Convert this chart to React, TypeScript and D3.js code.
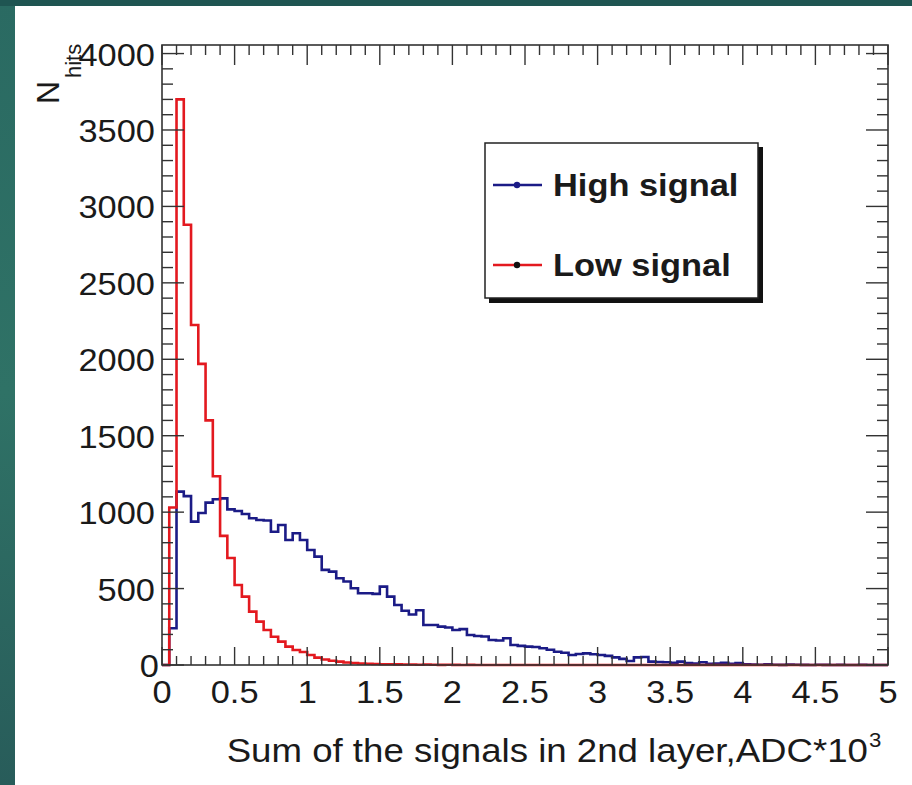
import React from "react";
import * as d3 from "d3";

// ---- data ----
const binWidth = 0.05;
const xDomain = [0, 5];
const yDomain = [0, 4056];

const highSignal = [
  0, 240, 1134, 1105, 938, 994, 1062, 1084, 1090, 1018,
  1007, 988, 960, 949, 945, 872, 916, 818, 862, 818,
  752, 709, 622, 611, 568, 546, 502, 469, 469, 465,
  513, 447, 393, 355, 330, 358, 262, 262, 251, 245,
  229, 235, 196, 190, 186, 164, 160, 175, 131, 125,
  120, 118, 110, 100, 87, 80, 65, 72, 76, 70,
  65, 60, 50, 40, 26, 50, 52, 22, 20, 18,
  15, 22, 12, 10, 18, 8, 10, 14, 8, 12,
  4, 3, 2, 4, 2, 1, 3, 2, 1, 0,
  2, 1, 0, 1, 0, 0, 1, 0, 0, 0,
];

const lowSignal = [
  0, 1030, 3700, 2880, 2224, 1970, 1600, 1235, 845, 700,
  523, 447, 349, 284, 229, 185, 153, 120, 98, 85,
  65, 48, 36, 28, 22, 16, 13, 10, 8, 7,
  5, 5, 4, 3, 3, 2, 3, 2, 1, 2,
  1, 0, 1, 0, 0, 0, 0, 0, 0, 0,
  0, 0, 0, 0, 0, 0, 0, 0, 0, 0,
  0, 0, 0, 0, 0, 0, 0, 0, 0, 0,
  0, 0, 0, 0, 0, 0, 0, 0, 0, 0,
  0, 0, 0, 0, 0, 0, 0, 0, 0, 0,
  0, 0, 0, 0, 0, 0, 0, 0, 0, 0,
];

const xMajorTicks = [0, 0.5, 1, 1.5, 2, 2.5, 3, 3.5, 4, 4.5, 5];
const xTickLabels = ["0", "0.5", "1", "1.5", "2", "2.5", "3", "3.5", "4", "4.5", "5"];
const yMajorTicks = [0, 500, 1000, 1500, 2000, 2500, 3000, 3500, 4000];
const yTickLabels = ["0", "500", "1000", "1500", "2000", "2500", "3000", "3500", "4000"];
const legendLabels = ["High signal", "Low signal"];

// ---- layout ----
const W = 912;
const H = 785;
const F = { left: 162, right: 888, top: 45, bottom: 665 };
const FONT = "'Liberation Sans', Arial, Helvetica, sans-serif";
const SX = 1.11;
const BLUE = "#1b1b86";
const RED = "#e3191f";

function T(props: {
  x: number; y: number; size: number; anchor?: string; weight?: string | number;
  children: React.ReactNode; fill?: string;
}) {
  const { x, y, size, anchor = "start", weight = "normal", children, fill = "#1a1a1a" } = props;
  return (
    <text transform={`translate(${x},${y}) scale(${SX},1)`} fontFamily={FONT} fontSize={size}
      fontWeight={weight} textAnchor={anchor} fill={fill}>
      {children}
    </text>
  );
}

export default function App() {
  const x = d3.scaleLinear().domain(xDomain).range([F.left, F.right]);
  const y = d3.scaleLinear().domain(yDomain).range([F.bottom, F.top]);

  const xMinor = d3.range(0, 5.0001, 0.1);
  const yMinor = d3.range(0, yDomain[1], 100);

  const stepPath = (vals: number[]) => {
    const pts: [number, number][] = [[0, 0]];
    vals.forEach((v, i) => pts.push([i * binWidth, v]));
    pts.push([vals.length * binWidth, vals[vals.length - 1]]);
    return d3.line<[number, number]>()
      .x((d) => x(d[0]))
      .y((d) => y(d[1]))
      .curve(d3.curveStepAfter)(pts) as string;
  };

  const axisColor = "#333";
  const isMajorX = (v: number) => Math.abs(v * 2 - Math.round(v * 2)) < 1e-6;
  const isMajorY = (v: number) => v % 500 === 0;

  return (
    <svg width={W} height={H} style={{ position: "absolute", left: 0, top: 0, display: "block" }}>
      <defs>
        <linearGradient id="bg" x1="0" y1="0" x2="0" y2="1">
          <stop offset="0" stopColor="#2a6a62" />
          <stop offset="0.5" stopColor="#2f7266" />
          <stop offset="1" stopColor="#285c5a" />
        </linearGradient>
      </defs>
      <rect x={0} y={0} width={W} height={H} fill="url(#bg)" />
      <rect x={0} y={0} width={W} height={6} fill="#1f5552" />
      <rect x={15} y={6} width={W - 15} height={H - 6} fill="#ffffff" />

      {/* histograms */}
      <path d={stepPath(highSignal)} fill="none" stroke={BLUE} strokeWidth={2.6} />
      <path d={stepPath(lowSignal)} fill="none" stroke={RED} strokeWidth={2.6} />

      {/* frame */}
      <rect x={F.left} y={F.top} width={F.right - F.left} height={F.bottom - F.top}
        fill="none" stroke={axisColor} strokeWidth={1.6} />

      {/* x ticks bottom & top */}
      {xMinor.map((v, i) => {
        const big = isMajorX(v);
        const px = x(v);
        return (
          <g key={"xt" + i} stroke={axisColor} strokeWidth={1.4}>
            <line x1={px} x2={px} y1={F.bottom} y2={F.bottom - (big ? 18 : 9)} />
            <line x1={px} x2={px} y1={F.top} y2={F.top + (big ? 20 : 10)} />
          </g>
        );
      })}
      {/* y ticks left & right */}
      {yMinor.map((v, i) => {
        const big = isMajorY(v);
        const py = y(v);
        return (
          <g key={"yt" + i} stroke={axisColor} strokeWidth={1.4}>
            <line x1={F.left} x2={F.left + (big ? 22 : 11)} y1={py} y2={py} />
            <line x1={F.right} x2={F.right - (big ? 22 : 11)} y1={py} y2={py} />
          </g>
        );
      })}

      {/* tick labels */}
      {xMajorTicks.map((v, i) => (
        <T key={"xl" + i} x={x(v)} y={703} size={31} anchor="middle">{xTickLabels[i]}</T>
      ))}
      {yMajorTicks.map((v, i) => (
        <T key={"yl" + i} x={i === 0 ? 159 : 155} y={y(v) + 12} size={31} anchor="end">{yTickLabels[i]}</T>
      ))}

      {/* axis titles */}
      <T x={868} y={762} size={33} anchor="end">Sum of the signals in 2nd layer,ADC*10</T>
      <T x={869} y={747} size={20}>3</T>

      <text transform="translate(59,104) rotate(-90)" fontFamily={FONT} fontSize={32} fill="#1a1a1a">N</text>
      <text transform="translate(81,78) rotate(-90)" fontFamily={FONT} fontSize={22} fill="#1a1a1a">hits</text>

      {/* legend */}
      <rect x={489} y={147} width={274} height={156} fill="#111" />
      <rect x={485} y={143} width={273} height={155} fill="#fff" stroke="#222" strokeWidth={1.5} />
      {legendLabels.map((lab, i) => {
        const ly = 185 + i * 80;
        const col = i === 0 ? BLUE : RED;
        const mk = i === 0 ? BLUE : "#111";
        return (
          <g key={"lg" + i}>
            <line x1={493} x2={542} y1={ly} y2={ly} stroke={col} strokeWidth={2.6} />
            <circle cx={517} cy={ly} r={3.2} fill={mk} />
            <T x={553} y={ly + 11} size={31} weight="bold">{lab}</T>
          </g>
        );
      })}
    </svg>
  );
}
